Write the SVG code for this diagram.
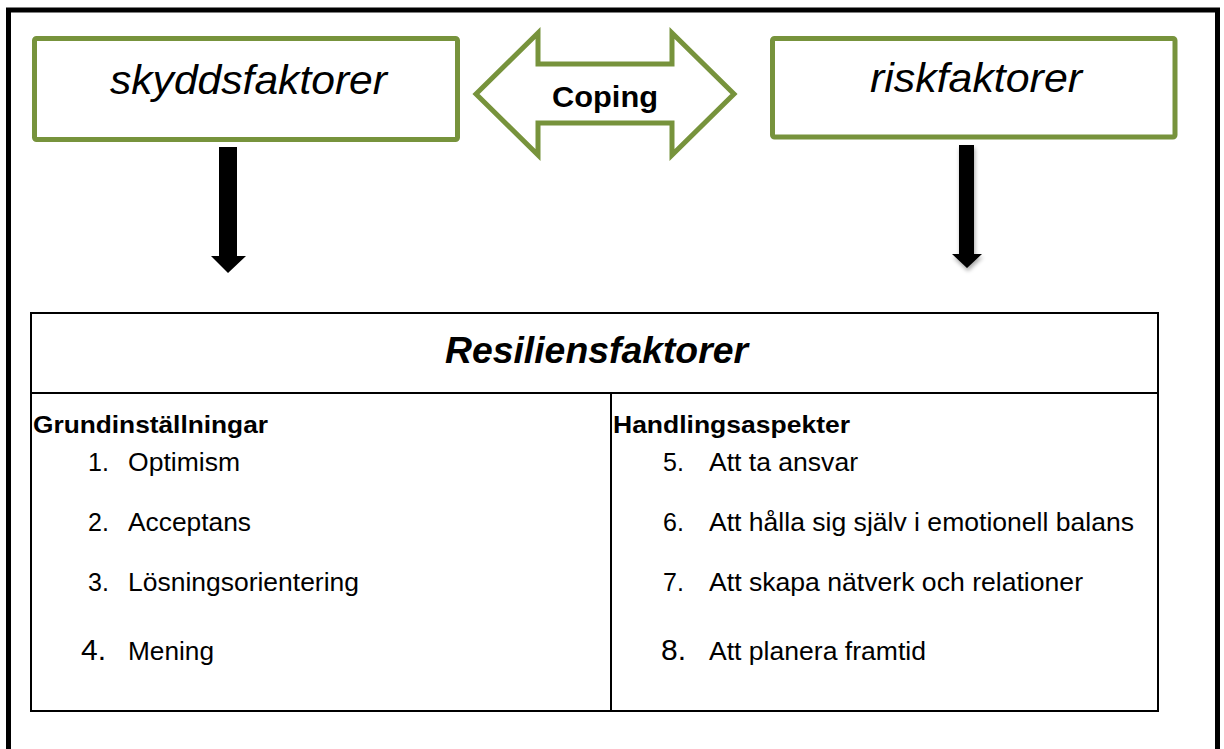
<svg xmlns="http://www.w3.org/2000/svg" width="1224" height="749" viewBox="0 0 1224 749">
<defs>
<style>
.t{font-family:"Liberation Sans",Arial,sans-serif;fill:#000}
.big{font-size:41px;font-style:italic}
.cop{font-size:29px;font-weight:bold}
.title{font-size:37px;font-weight:bold;font-style:italic}
.hd{font-size:24px;font-weight:bold}
.li{font-size:25px}
.num2{font-size:30px}
.gbox{fill:#fff;stroke:#77933C;stroke-width:5}
.tbl{fill:none;stroke:#000;stroke-width:2}
</style>
<filter id="sh" x="-50%" y="-10%" width="200%" height="130%">
<feGaussianBlur in="SourceAlpha" stdDeviation="2"/>
<feOffset dx="1" dy="3" result="b"/>
<feComponentTransfer><feFuncA type="linear" slope="0.35"/></feComponentTransfer>
<feMerge><feMergeNode/><feMergeNode in="SourceGraphic"/></feMerge>
</filter>
</defs>
<rect x="0" y="0" width="1224" height="749" fill="#fff"/>
<rect id="frame" x="8.5" y="10" width="1209" height="760" fill="none" stroke="#000" stroke-width="5"/>

<g id="skyddsfaktorer">
<rect class="gbox" x="34.5" y="38.5" width="423" height="101" rx="2"/>
<text class="t big" x="110" y="94" textLength="277" lengthAdjust="spacingAndGlyphs">skyddsfaktorer</text>
</g>

<g id="riskfaktorer">
<rect class="gbox" x="772.5" y="38.5" width="402.5" height="98.5" rx="2"/>
<text class="t big" x="870" y="92" textLength="212" lengthAdjust="spacingAndGlyphs">riskfaktorer</text>
</g>

<g id="coping">
<polygon class="gbox" stroke-linejoin="miter" points="476,94 538,33 538,64 672,64 672,33 734,94 672,155 672,123 538,123 538,155"/>
<text class="t cop" x="552" y="107" textLength="106" lengthAdjust="spacingAndGlyphs">Coping</text>
</g>

<g id="connectors">
<polygon points="219,147 237,147 237,256 246,256 228,273 211,256 219,256" fill="#000"/>
<polygon points="959,145 974,145 974,254 982,254 967,268 952,254 959,254" fill="#000" filter="url(#sh)"/>
</g>

<g id="resiliensfaktorer">
<rect class="tbl" x="31" y="313" width="1127" height="398"/>
<line class="tbl" x1="31" y1="393" x2="1158" y2="393"/>
<line class="tbl" x1="611" y1="393" x2="611" y2="711"/>
<text class="t title" x="445" y="363" textLength="303" lengthAdjust="spacingAndGlyphs">Resiliensfaktorer</text>
</g>

<g id="grundinstallningar">
<text class="t hd" x="33" y="433" textLength="235" lengthAdjust="spacingAndGlyphs">Grundinställningar</text>
<text class="t li" x="88" y="471">1.</text>
<text class="t li" x="128" y="471" textLength="112" lengthAdjust="spacingAndGlyphs">Optimism</text>
<text class="t li" x="88" y="531">2.</text>
<text class="t li" x="128" y="531" textLength="123" lengthAdjust="spacingAndGlyphs">Acceptans</text>
<text class="t li" x="88" y="591">3.</text>
<text class="t li" x="128" y="591" textLength="231" lengthAdjust="spacingAndGlyphs">Lösningsorientering</text>
<text class="t num2" x="81" y="660">4.</text>
<text class="t li" x="128" y="660" textLength="86" lengthAdjust="spacingAndGlyphs">Mening</text>
</g>

<g id="handlingsaspekter">
<text class="t hd" x="613" y="433" textLength="237" lengthAdjust="spacingAndGlyphs">Handlingsaspekter</text>
<text class="t li" x="663" y="471">5.</text>
<text class="t li" x="709" y="471" textLength="149" lengthAdjust="spacingAndGlyphs">Att ta ansvar</text>
<text class="t li" x="663" y="531">6.</text>
<text class="t li" x="709" y="531" textLength="425" lengthAdjust="spacingAndGlyphs">Att hålla sig själv i emotionell balans</text>
<text class="t li" x="663" y="591">7.</text>
<text class="t li" x="709" y="591" textLength="374" lengthAdjust="spacingAndGlyphs">Att skapa nätverk och relationer</text>
<text class="t num2" x="661" y="660">8.</text>
<text class="t li" x="709" y="660" textLength="217" lengthAdjust="spacingAndGlyphs">Att planera framtid</text>
</g>
</svg>
